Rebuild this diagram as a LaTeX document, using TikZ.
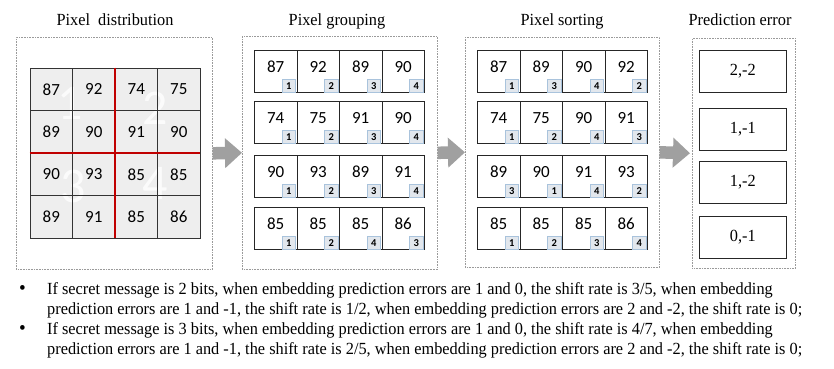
\documentclass[tikz,border=0pt]{standalone}
\usepackage{fontspec}
\setmainfont{Liberation Serif}[FakeStretch=0.96]
\newfontfamily\cellfont{Carlito}
\usetikzlibrary{arrows.meta,shadows}
\definecolor{cellgray}{HTML}{EEEEEE}
\definecolor{gridred}{HTML}{C00000}
\definecolor{tagfill}{HTML}{E2E7ED}
\definecolor{tagline}{HTML}{A9C3DC}
\definecolor{arrowgray}{HTML}{A0A0A0}
\definecolor{framegray}{HTML}{9A9A9A}

\begin{document}
\begin{tikzpicture}[x=1pt, y=-1pt,
  frame/.style={draw=framegray, densely dotted, line width=0.6pt,
    inner sep=0pt, anchor=north west},
  title/.style={anchor=base, font=\fontsize{17}{20}\selectfont},
  cell/.style={draw=black!80, line width=0.7pt, minimum width=42.5pt,
    minimum height=42.5pt, inner sep=0pt,
    font=\cellfont\fontsize{17}{20}\selectfont},
  slot/.style={draw=black!85, line width=0.8pt, minimum width=42.5pt,
    minimum height=42pt, inner sep=0pt, anchor=north west},
  val/.style={font=\cellfont\fontsize{17}{20}\selectfont, inner sep=0pt},
  tag/.style={draw=tagline, fill=tagfill, minimum width=13.5pt,
    minimum height=13pt, inner sep=0pt, anchor=south east,
    font=\cellfont\bfseries\fontsize{10.5}{11}\selectfont,
    drop shadow={fill=tagline, opacity=0.5, shadow xshift=0.6pt,
      shadow yshift=-0.8pt}},
  errbox/.style={draw=black!85, line width=0.8pt, minimum width=87pt,
    minimum height=42pt, inner sep=0pt, anchor=north west,
    font=\fontsize{17}{20}\selectfont},
  ghost/.style={text=white, opacity=0.8,
    font=\cellfont\fontsize{50}{50}\selectfont},
  flow/.style={arrowgray, line width=12.5pt,
    -{Triangle[width=29pt, length=17pt]}},
  note/.style={anchor=base west, inner sep=0pt,
    font=\fontsize{17}{20}\selectfont}]

\useasboundingbox (0,0) rectangle (834,368);

% panel frames and titles
\node[frame, minimum width=196pt, minimum height=232pt] (distbox) at (16,37) {};
\node[frame, minimum width=195pt, minimum height=233pt] (groupbox) at (242,36) {};
\node[frame, minimum width=194pt, minimum height=230pt] (sortbox) at (465,37) {};
\node[frame, minimum width=103pt, minimum height=230pt] (errframe) at (692,38) {};
\node[title] (disttitle) at (115,25) {Pixel \ distribution};
\node[title] (grouptitle) at (337,25) {Pixel grouping};
\node[title] (sorttitle) at (562,25) {Pixel sorting};
\node[title] (errtitle) at (740,25) {Prediction error};

% pixel distribution
\fill[cellgray] (30,68) rectangle (200,238);
\node[ghost] (q1) at (70,103) {1};
\node[ghost] (q2) at (155,108) {2};
\node[ghost] (q3) at (73,186) {3};
\node[ghost] (q4) at (155,183) {4};
\foreach \vals [count=\r from 0] in
    {{87,92,74,75},{89,90,91,90},{90,93,85,85},{89,91,85,86}}
  \foreach \v [count=\c from 0] in \vals
    \node[cell] (p-\r-\c) at (51.25+42.5*\c, 89.25+42.5*\r) {\v};
\draw[gridred, line width=2pt] (p-0-2.north west) -- (p-3-2.south west);
\draw[gridred, line width=2pt] (p-2-0.north west) -- (p-2-3.north east);

% pixel grouping
\foreach \pairs/\top [count=\r] in
    {{87/1,92/2,89/3,90/4}/50, {74/1,75/2,91/3,90/4}/101,
     {90/1,93/2,89/3,91/4}/155, {85/1,85/2,85/4,86/3}/207}
  \foreach \v/\t [count=\c from 0] in \pairs {
    \node[slot] (g\r-\c) at (254+42.5*\c, \top) {};
    \node[val] at ([yshift=-17pt]g\r-\c.north) {\v};
    \node[tag] (g\r-\c-t) at ([xshift=-1.5pt]g\r-\c.south east) {\t};
  }

% pixel sorting
\foreach \pairs/\top [count=\r] in
    {{87/1,89/3,90/4,92/2}/50, {74/1,75/2,90/4,91/3}/101,
     {89/3,90/1,91/4,93/2}/155, {85/1,85/2,85/3,86/4}/207}
  \foreach \v/\t [count=\c from 0] in \pairs {
    \node[slot] (s\r-\c) at (477+42.5*\c, \top) {};
    \node[val] at ([yshift=-17pt]s\r-\c.north) {\v};
    \node[tag] (s\r-\c-t) at ([xshift=-1.5pt]s\r-\c.south east) {\t};
  }

% prediction error
\node[errbox] (e1) at (699,50) {2,-2};
\node[errbox] (e2) at (699,108) {1,-1};
\node[errbox] (e3) at (699,161) {1,-2};
\node[errbox] (e4) at (699,216) {0,-1};

% flow between panels
\draw[flow] (distbox.east) -- (groupbox.west);
\draw[flow] (groupbox.east) -- (sortbox.west);
\draw[flow, shorten >=2pt] (sortbox.east) -- (errframe.west);

% notes
\node[note, font=\fontsize{20}{20}\selectfont] (b1) at (19,294) {\textbullet};
\node[note] (n1a) at (47,294) {If secret message is 2 bits, when embedding prediction errors are 1 and 0, the shift rate is 3/5, when embedding};
\node[note] (n1b) at (47,314) {prediction errors are 1 and -1, the shift rate is 1/2, when embedding prediction errors are 2 and -2, the shift rate is 0;};
\node[note, font=\fontsize{20}{20}\selectfont] (b2) at (19,334) {\textbullet};
\node[note] (n2a) at (47,334) {If secret message is 3 bits, when embedding prediction errors are 1 and 0, the shift rate is 4/7, when embedding};
\node[note] (n2b) at (47,354) {prediction errors are 1 and -1, the shift rate is 2/5, when embedding prediction errors are 2 and -2, the shift rate is 0;};
\end{tikzpicture}
\end{document}
